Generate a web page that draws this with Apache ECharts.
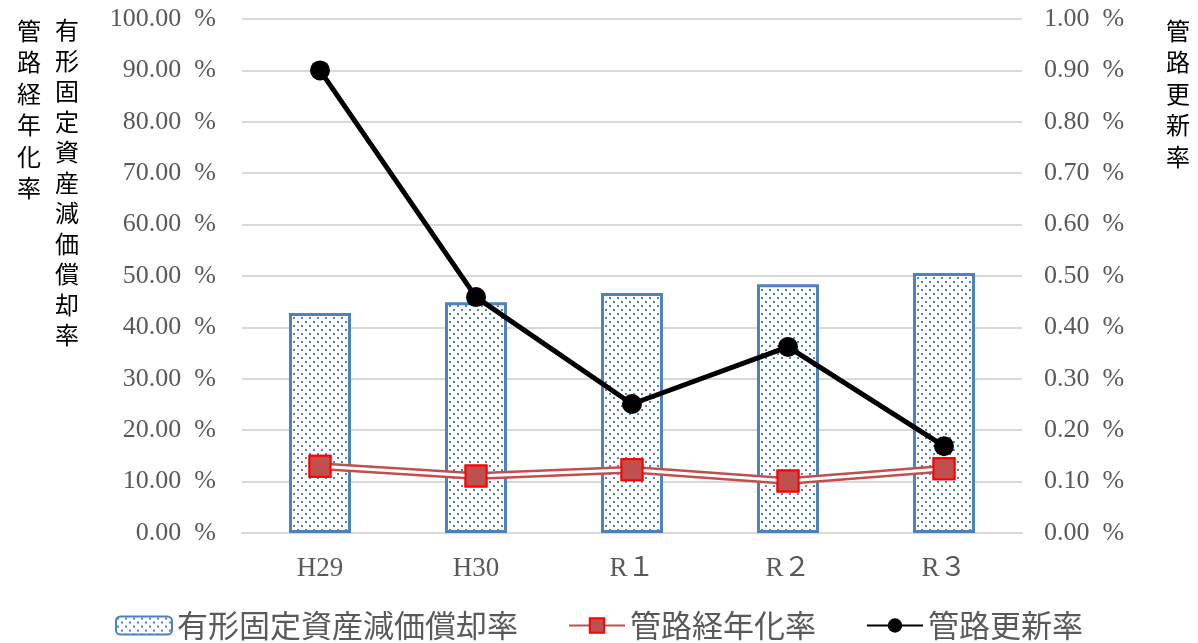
<!DOCTYPE html>
<html><head><meta charset="utf-8">
<script src="https://cdn.jsdelivr.net/npm/echarts@6/dist/echarts.min.js"></script>
<style>html,body{margin:0;padding:0;background:#fff}#c{width:1198px;height:643px}</style>
</head><body><div id="c"></div>
<script>
const categories = ['H29', 'H30', 'R１', 'R２', 'R３'];
const depreciationRate = [42.8, 44.9, 46.7, 48.4, 50.6];
const agingRate = [13.0, 11.1, 12.3, 10.1, 12.5];
const renewalRate = [0.90, 0.459, 0.251, 0.362, 0.169];

const NUMFONT = '"Liberation Serif", "Noto Sans CJK JP", serif';
const CJKFONT = '"Noto Sans CJK JP", sans-serif';

const pc = document.createElement('canvas');
pc.width = 8; pc.height = 8;
const ctx = pc.getContext('2d');
ctx.fillStyle = '#ffffff'; ctx.fillRect(0, 0, 8, 8);
ctx.fillStyle = '#4F81BD';
ctx.fillRect(1, 1, 2, 2);
ctx.fillRect(5, 5, 2, 2);

const chart = echarts.init(document.getElementById('c'));
const vt = s => s.split('').join('\n');
chart.setOption({
  animation: false,
  grid: { left: 242, right: 176, top: 19, bottom: 110 },
  xAxis: {
    type: 'category', data: categories,
    axisLine: { show: true, lineStyle: { color: '#D9D9D9', width: 2 } },
    axisTick: { show: false },
    axisLabel: { color: '#595959', fontFamily: NUMFONT, fontSize: 27, margin: 22 }
  },
  yAxis: [
    { type: 'value', min: 0, max: 100, interval: 10,
      axisLine: { show: false }, axisTick: { show: false },
      splitLine: { lineStyle: { color: '#D9D9D9', width: 2 } },
      axisLabel: { color: '#595959', fontFamily: NUMFONT, fontSize: 26, margin: 26,
        formatter: v => v.toFixed(2) + '  %' } },
    { type: 'value', min: 0, max: 1, interval: 0.1,
      axisLine: { show: false }, axisTick: { show: false }, splitLine: { show: false },
      axisLabel: { color: '#595959', fontFamily: NUMFONT, fontSize: 26, margin: 22,
        formatter: v => v.toFixed(2) + '  %' } }
  ],
  legend: {
    bottom: -3, left: 'center', itemWidth: 56, itemHeight: 18, itemGap: 50,
    textStyle: { color: '#595959', fontFamily: CJKFONT, fontSize: 31 },
    data: ['有形固定資産減価償却率', '管路経年化率', '管路更新率']
  },
  graphic: [
    { type: 'text', left: 17, top: 15, style: { text: vt('管路経年化率'), fontFamily: CJKFONT, fontSize: 24, lineHeight: 31.5, fill: '#000' } },
    { type: 'text', left: 55, top: 15, style: { text: vt('有形固定資産減価償却率'), fontFamily: CJKFONT, fontSize: 24, lineHeight: 30.5, fill: '#000' } },
    { type: 'text', left: 1166, top: 15, style: { text: vt('管路更新率'), fontFamily: CJKFONT, fontSize: 24, lineHeight: 31.5, fill: '#000' } }
  ],
  series: [
    { name: '有形固定資産減価償却率', type: 'bar', data: depreciationRate, barWidth: 62, z: 1,
      itemStyle: { color: { image: pc, repeat: 'repeat' }, borderColor: '#4F81BD', borderWidth: 3 } },
    { name: '管路経年化率', type: 'line', data: agingRate, z: 3,
      symbol: 'rect', symbolSize: 21,
      lineStyle: { color: '#C0504D', width: 8 },
      itemStyle: { color: '#C0504D', borderColor: '#FF0000', borderWidth: 2 } },
    { name: '_aging_inner', type: 'line', data: agingRate, z: 4, silent: true,
      symbol: 'none', lineStyle: { color: '#ffffff', width: 3 } },
    { name: '_aging_marks', type: 'line', data: agingRate, z: 5, silent: true,
      symbol: 'rect', symbolSize: 21, lineStyle: { opacity: 0 },
      itemStyle: { color: '#C0504D', borderColor: '#FF0000', borderWidth: 2 } },
    { name: '管路更新率', type: 'line', yAxisIndex: 1, data: renewalRate, z: 6,
      symbol: 'circle', symbolSize: 20,
      lineStyle: { color: '#000', width: 5 },
      itemStyle: { color: '#000' } }
  ]
});
</script></body></html>
